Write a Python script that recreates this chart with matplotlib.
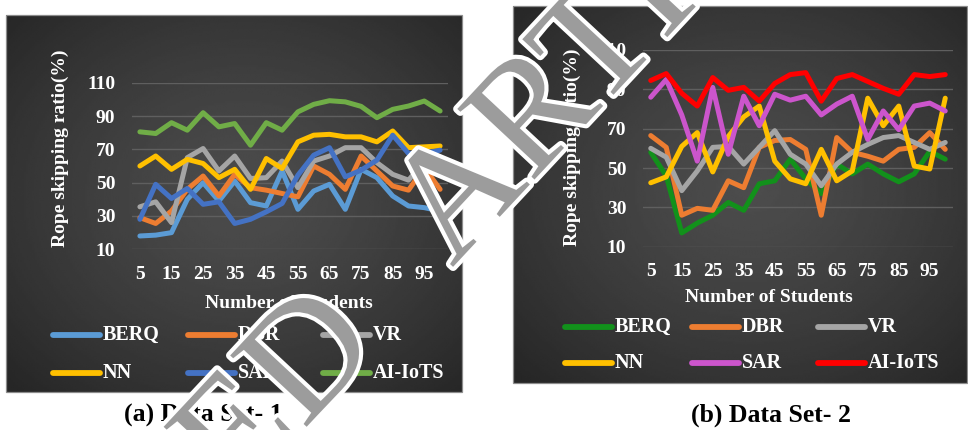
import numpy as np
import matplotlib
matplotlib.use("Agg")
import matplotlib.pyplot as plt
from matplotlib.lines import Line2D
from matplotlib.patches import Rectangle
import matplotlib.patheffects as pe

# ---------------- data ----------------
students = [5, 10, 15, 20, 25, 30, 35, 40, 45, 50,
            55, 60, 65, 70, 75, 80, 85, 90, 95, 100]
x_tick_labels = ["5", "15", "25", "35", "45", "55", "65", "75", "85", "95"]
y_ticks = [10, 30, 50, 70, 90, 110]
series_names = ["BERQ", "DBR", "VR", "NN", "SAR", "AI-IoTS"]

# Data Set 1
berq_1 = [18, 18.5, 20, 40, 50, 39, 51, 38, 36, 57, 34, 45, 49, 34, 58, 53, 42, 36, 35, 33]
dbr_1 = [29, 25.5, 33, 46, 54, 42, 55, 47, 45.5, 43.5, 41.5, 60, 55, 46, 66, 57, 48, 45.5, 59, 46]
vr_1 = [35.5, 38.5, 26, 65, 70.5, 57, 66, 52.5, 53, 63, 47, 63, 66, 71, 71, 62, 55, 51.5, 62.5, 57.5]
nn_1 = [60, 66, 58, 64, 61.5, 53, 58, 46, 64.5, 58.5, 74.5, 78.5, 79, 77.5, 77.5, 74.5, 81, 71, 71.5, 72]
sar_1 = [28, 49, 40.5, 46.5, 37, 38.5, 25.5, 28, 32.5, 37.5, 54.5, 66.5, 71, 53.5, 57.5, 63.5, 78.5, 67.5, 67.5, 69.5]
aiiots_1 = [80.5, 79.5, 86, 81.5, 92, 83.5, 85.5, 72.5, 86, 81.5, 92.5, 97, 99.2, 98.5, 95.8, 89, 94, 96, 99, 93]

# Data Set 2
berq_2 = [58, 46, 17, 22, 26, 32.5, 28.5, 42, 43.5, 54.5, 44.5, 37, 52, 47, 52, 47, 43, 47, 58.5, 54.5]
dbr_2 = [66.5, 60.5, 26, 29.5, 28.5, 43.5, 40, 60.5, 64, 64.5, 59.5, 26, 65.5, 58, 56, 53.5, 59.5, 60.5, 68, 59.5]
vr_2 = [60, 55.5, 38.5, 48.5, 60.5, 61, 52, 60.5, 69, 57, 52, 41, 52, 58, 62, 65.5, 66.5, 63, 59.5, 63]
nn_2 = [42.5, 45.5, 61, 68, 48, 66, 76, 81.5, 53.5, 44.5, 42, 59.5, 43.5, 48.5, 85.5, 71.5, 81.5, 51, 49.5, 85.5]
sar_2 = [86, 95, 77, 53.5, 91, 57, 86.5, 71.5, 87.5, 84.5, 86.5, 77, 82.5, 86.5, 64.5, 79, 69.5, 81.5, 83, 79]
aiiots_2 = [94.5, 98, 88, 81.5, 96, 89.5, 91, 84, 93, 97.5, 98.5, 84, 95.5, 97.5, 94, 90.5, 87.5, 97.5, 96.5, 97.5]

colors_1 = ["#5B9BD5", "#ED7D31", "#A5A5A5", "#FFC000", "#4472C4", "#70AD47"]
colors_2 = ["#12911B", "#ED7D31", "#A5A5A5", "#FFC000", "#CC55CC", "#FF0000"]

# ---------------- layout helpers (pixel based) ----------------
W, H = 968, 430
fig = plt.figure(figsize=(W / 100, H / 100), dpi=100)
fig.patch.set_facecolor("white")

SERIF = ["Liberation Serif", "DejaVu Serif"]
LW = 3.6


def fx(px):
    return px / W


def fy(py):
    return 1 - py / H


def rect(l, t, r, b):
    return [fx(l), fy(b), (r - l) / W, (b - t) / H]


def panel_background(l, t, r, b):
    bg = fig.add_axes(rect(l, t, r, b), zorder=0)
    ny, nx = 200, 240
    yy, xx = np.mgrid[0:1:ny * 1j, 0:1:nx * 1j]
    d = np.sqrt(((xx - 0.52) / 0.72) ** 2 + ((yy - 0.48) / 0.72) ** 2)
    v = 0.30 - 0.15 * np.clip(d, 0, 1) ** 1.3
    bg.imshow(v, cmap="gray", vmin=0, vmax=1, extent=[0, 1, 0, 1],
              aspect="auto", interpolation="bilinear")
    bg.set_axis_off()
    fig.add_artist(Rectangle((fx(l), fy(b)), (r - l) / W, (b - t) / H,
                             transform=fig.transFigure, fill=False,
                             ec="#8c8c8c", lw=0.9, zorder=1))


def line_chart(plot_rect, series, colors):
    l, t, r, b = plot_rect
    ax = fig.add_axes(rect(l, t, r, b), zorder=2)
    ax.patch.set_alpha(0)
    idx = np.arange(len(students))
    for vals, c in zip(series, colors):
        ax.plot(idx, vals, color=c, lw=LW, solid_joinstyle="round",
                solid_capstyle="round", zorder=3)
    ax.set_xlim(-0.5, len(students) - 0.5)
    ax.set_ylim(y_ticks[0], y_ticks[-1])
    ax.set_yticks(y_ticks)
    ax.set_yticklabels([str(v) for v in y_ticks])
    ax.set_xticks(idx[::2])
    ax.set_xticklabels(x_tick_labels)
    ax.grid(axis="y", color="#5f5f5f", lw=1.0, zorder=1)
    ax.tick_params(axis="both", length=0, colors="white", labelsize=14)
    ax.tick_params(axis="y", pad=12)
    ax.tick_params(axis="x", pad=12)
    for lab in ax.get_xticklabels() + ax.get_yticklabels():
        lab.set_fontfamily(SERIF)
        lab.set_fontweight("bold")
    for s in ax.spines.values():
        s.set_visible(False)
    return ax


def legend_block(x_cols, y_rows, colors):
    k = 0
    for yrow in y_rows:
        for xc in x_cols:
            x0, x1 = xc, xc + 47
            fig.add_artist(Line2D([fx(x0), fx(x1)], [fy(yrow), fy(yrow)],
                                  transform=fig.transFigure, color=colors[k],
                                  lw=LW + 0.6, solid_capstyle="round", zorder=3))
            fig.text(fx(x1 + 3), fy(yrow), series_names[k], color="white",
                     fontsize=14.5, fontweight="bold", family=SERIF,
                     ha="left", va="center", zorder=3)
            k += 1


# ---------------- panel (a) ----------------
panel_background(6, 15, 462, 392)
line_chart((132, 82.7, 448, 249.3),
           [berq_1, dbr_1, vr_1, nn_1, sar_1, aiiots_1], colors_1)
fig.text(fx(60), fy(148), "Rope skipping ratio(%)", rotation=90, color="white",
         fontsize=14, fontweight="bold", family=SERIF, ha="center", va="center", zorder=3)
fig.text(fx(289), fy(303), "Number of Students", color="white",
         fontsize=14, fontweight="bold", family=SERIF, ha="center", va="center", zorder=3)
legend_block([53, 188, 323], [335, 373], colors_1)
fig.text(fx(203), fy(415), "(a) Data Set- 1", color="black", fontsize=18.5,
         fontweight="bold", family=SERIF, ha="center", va="center")

# ---------------- panel (b) ----------------
panel_background(513, 6, 967, 383)
line_chart((643, 50, 953, 246.7),
           [berq_2, dbr_2, vr_2, nn_2, sar_2, aiiots_2], colors_2)
fig.text(fx(572), fy(147), "Rope skipping ratio(%)", rotation=90, color="white",
         fontsize=14, fontweight="bold", family=SERIF, ha="center", va="center", zorder=3)
fig.text(fx(769), fy(297), "Number of Students", color="white",
         fontsize=14, fontweight="bold", family=SERIF, ha="center", va="center", zorder=3)
legend_block([565, 692, 818], [327, 363], colors_2)
fig.text(fx(771), fy(415), "(b) Data Set- 2", color="black", fontsize=18.5,
         fontweight="bold", family=SERIF, ha="center", va="center")

# ---------------- diagonal stamp ----------------
stamp = dict(rotation=47, rotation_mode="anchor", va="baseline", fontsize=115,
             family=SERIF, color="#9c9c9c", zorder=10,
             path_effects=[pe.withStroke(linewidth=6, foreground="white")])
fig.text(fx(382), fy(346), "ACCEPTED", ha="right", **stamp)
fig.text(fx(452), fy(268), "ARTICLE", ha="left", **stamp)

fig.savefig("out.png", dpi=100, facecolor="white")
